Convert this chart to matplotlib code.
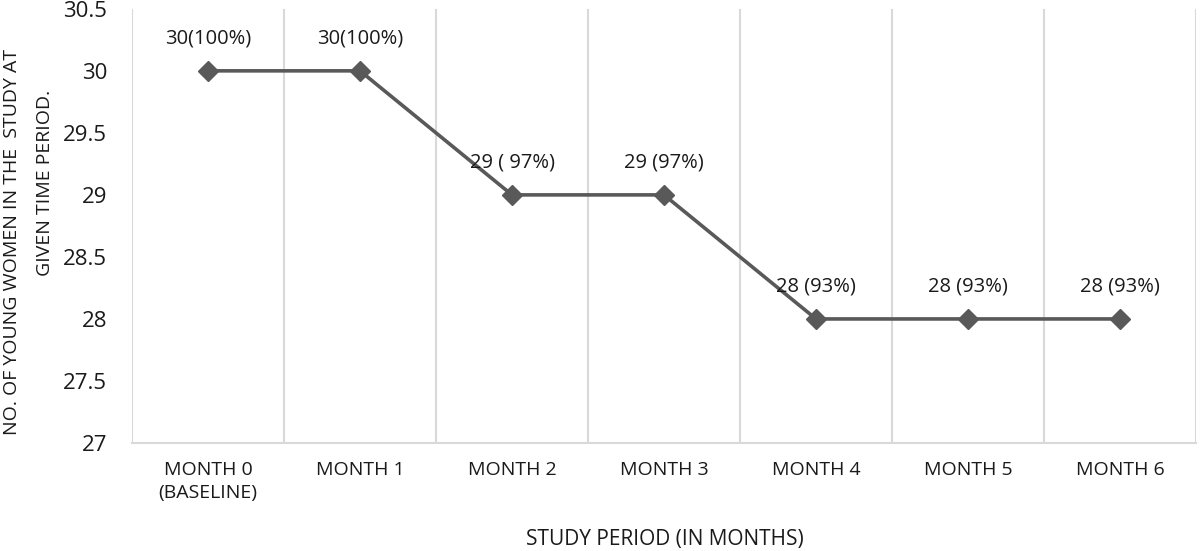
import matplotlib.pyplot as plt
import numpy as np

# data
months = ['MONTH 0\n(BASELINE)', 'MONTH 1', 'MONTH 2', 'MONTH 3', 'MONTH 4', 'MONTH 5', 'MONTH 6']
women = [30, 30, 29, 29, 28, 28, 28]
point_labels = ['30(100%)', '30(100%)', '29 ( 97%)', '29 (97%)', '28 (93%)', '28 (93%)', '28 (93%)']

plt.rcParams['font.family'] = ['Open Sans', 'DejaVu Sans']
txt = '#1a1a1a'

fig = plt.figure(figsize=(12, 5.51), dpi=100)
ax = fig.add_axes([0.11, 0.196, 0.8867, 0.788])

x = np.arange(len(months))
ax.plot(x, women, color='#595959', lw=2.6, marker='D', ms=10.5, zorder=3)
for xi, yi, lab in zip(x, women, point_labels):
    ax.annotate(lab, (xi, yi), xytext=(0, 16), textcoords='offset points',
                ha='center', va='bottom', fontsize=14.5, color=txt)

ax.set_xlim(-0.5, len(months) - 0.5)
ax.set_ylim(27, 30.5)
ax.set_yticks(np.arange(27, 30.51, 0.5))
ax.set_yticklabels(['27', '27.5', '28', '28.5', '29', '29.5', '30', '30.5'])
ax.set_xticks(x)
ax.set_xticklabels(months, fontsize=14, linespacing=1.35, color=txt)
ax.set_xticks(np.arange(-0.5, len(months)), minor=True)
ax.grid(which='minor', axis='x', color='#d9d9d9', lw=1.5)
ax.tick_params(axis='both', which='both', length=0)
ax.tick_params(axis='y', labelsize=16, pad=18, labelcolor=txt)
ax.tick_params(axis='x', pad=13)

for s in ['top', 'right', 'left']:
    ax.spines[s].set_visible(False)
ax.spines['bottom'].set_color('#d9d9d9')
ax.spines['bottom'].set_linewidth(1.5)

# y label, two lines placed separately as in the reference
fig.text(12 / 1200, 1 - 242 / 551, 'NO. OF YOUNG WOMEN IN THE  STUDY AT', rotation=90,
         ha='center', va='center', fontsize=14, color=txt)
fig.text(45 / 1200, 1 - 183 / 551, 'GIVEN TIME PERIOD.', rotation=90,
         ha='center', va='center', fontsize=14, color=txt)

fig.text(665 / 1200, 1 - 540 / 551, 'STUDY PERIOD (IN MONTHS)', ha='center', va='center',
         fontsize=15, color=txt)

fig.savefig('out.png', dpi=100)
